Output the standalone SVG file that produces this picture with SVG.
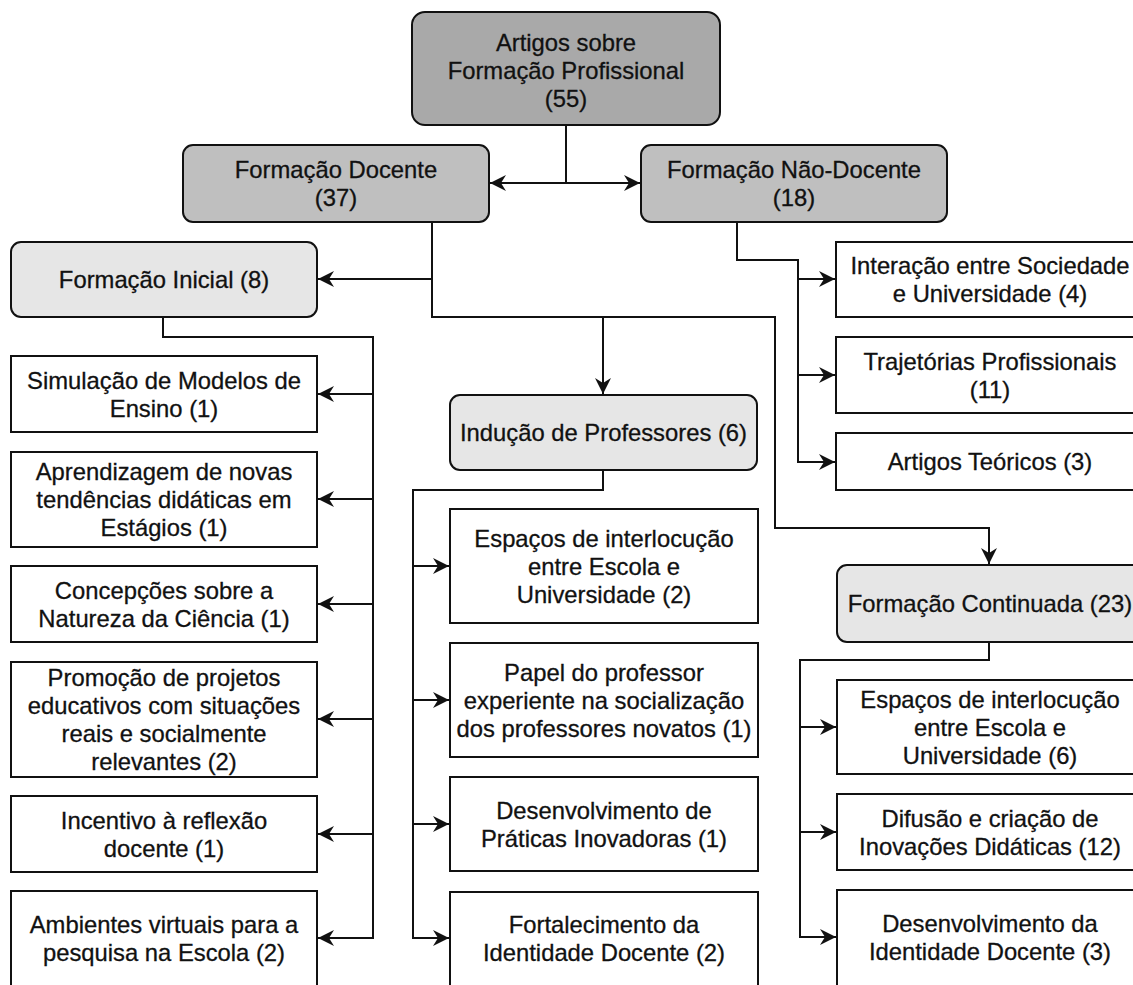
<svg xmlns="http://www.w3.org/2000/svg" width="1133" height="985" viewBox="0 0 1133 985">
<style>
.t{font-family:"Liberation Sans",Arial,sans-serif;font-size:23.8px;fill:#111;stroke:#111;stroke-width:0.3;text-anchor:middle}
.b{stroke:#111;stroke-width:2}
.l0{fill:#a9a9a9}
.l1{fill:#bfbfbf}
.l2{fill:#e6e6e6}
.lf{fill:#fff}
.c{fill:none;stroke:#111;stroke-width:2}
</style>
<defs>
<marker id="ah" viewBox="-17 -9 18 18" markerWidth="18" markerHeight="18" refX="0" refY="0" markerUnits="userSpaceOnUse" orient="auto">
<path d="M-16,-8 L0,0 L-16,8 L-11,0 Z" fill="#111"/>
</marker>
</defs>
<rect width="1133" height="985" fill="#fff"/>
<g id="connectors">
<path class="c" d="M566,125 V183 H490" marker-end="url(#ah)"/>
<path class="c" d="M566,183 H640" marker-end="url(#ah)"/>
<path class="c" d="M432,222 V279 H318" marker-end="url(#ah)"/>
<path class="c" d="M432,279 V317 H603 V394" marker-end="url(#ah)"/>
<path class="c" d="M603,317 H775 V528 H989 V564" marker-end="url(#ah)"/>
<path class="c" d="M163,317 V337 H373 V938 H318" marker-end="url(#ah)"/>
<path class="c" d="M373,394 H318" marker-end="url(#ah)"/>
<path class="c" d="M373,499 H318" marker-end="url(#ah)"/>
<path class="c" d="M373,604 H318" marker-end="url(#ah)"/>
<path class="c" d="M373,719 H318" marker-end="url(#ah)"/>
<path class="c" d="M373,834 H318" marker-end="url(#ah)"/>
<path class="c" d="M737,222 V260 H798 V462 H835" marker-end="url(#ah)"/>
<path class="c" d="M798,279 H835" marker-end="url(#ah)"/>
<path class="c" d="M798,375 H835" marker-end="url(#ah)"/>
<path class="c" d="M603,470 V490 H413 V938 H449" marker-end="url(#ah)"/>
<path class="c" d="M413,566 H449" marker-end="url(#ah)"/>
<path class="c" d="M413,700 H449" marker-end="url(#ah)"/>
<path class="c" d="M413,824 H449" marker-end="url(#ah)"/>
<path class="c" d="M989,642 V660 H800 V937 H836" marker-end="url(#ah)"/>
<path class="c" d="M800,727 H836" marker-end="url(#ah)"/>
<path class="c" d="M800,832 H836" marker-end="url(#ah)"/>
</g>
<g id="n-root"><rect class="b l0" x="412" y="12" width="308" height="113" rx="13"/>
<text class="t" x="566" y="50.5">Artigos sobre</text><text class="t" x="566" y="78.5">Formação Profissional</text><text class="t" x="566" y="106.5">(55)</text></g>
<g id="n-docente"><rect class="b l1" x="183" y="145" width="306" height="77" rx="10"/>
<text class="t" x="336" y="178">Formação Docente</text><text class="t" x="336" y="206">(37)</text></g>
<g id="n-naodocente"><rect class="b l1" x="641" y="145" width="306" height="77" rx="10"/>
<text class="t" x="794" y="178">Formação Não-Docente</text><text class="t" x="794" y="206">(18)</text></g>
<g id="n-inicial"><rect class="b l2" x="11" y="242" width="306" height="75" rx="10"/>
<text class="t" x="164" y="288">Formação Inicial (8)</text></g>
<g id="n-simulacao"><rect class="b lf" x="11" y="356" width="306" height="76"/>
<text class="t" x="164" y="388.5">Simulação de Modelos de</text><text class="t" x="164" y="416.5">Ensino (1)</text></g>
<g id="n-aprendizagem"><rect class="b lf" x="11" y="452" width="306" height="95"/>
<text class="t" x="164" y="480">Aprendizagem de novas</text><text class="t" x="164" y="508">tendências didáticas em</text><text class="t" x="164" y="536">Estágios (1)</text></g>
<g id="n-concepcoes"><rect class="b lf" x="11" y="566" width="306" height="76"/>
<text class="t" x="164" y="598.5">Concepções sobre a</text><text class="t" x="164" y="626.5">Natureza da Ciência (1)</text></g>
<g id="n-promocao"><rect class="b lf" x="11" y="662" width="306" height="115"/>
<text class="t" x="164" y="686">Promoção de projetos</text><text class="t" x="164" y="714">educativos com situações</text><text class="t" x="164" y="742">reais e socialmente</text><text class="t" x="164" y="770">relevantes (2)</text></g>
<g id="n-incentivo"><rect class="b lf" x="11" y="796" width="306" height="76"/>
<text class="t" x="164" y="828.5">Incentivo à reflexão</text><text class="t" x="164" y="856.5">docente (1)</text></g>
<g id="n-ambientes"><rect class="b lf" x="11" y="891" width="306" height="96"/>
<text class="t" x="164" y="932.5">Ambientes virtuais para a</text><text class="t" x="164" y="960.5">pesquisa na Escola (2)</text></g>
<g id="n-inducao"><rect class="b l2" x="450" y="395" width="307" height="75" rx="10"/>
<text class="t" x="603.5" y="441">Indução de Professores (6)</text></g>
<g id="n-espacos-ind"><rect class="b lf" x="450" y="509" width="308" height="114"/>
<text class="t" x="604" y="546.5">Espaços de interlocução</text><text class="t" x="604" y="574.5">entre Escola e</text><text class="t" x="604" y="602.5">Universidade (2)</text></g>
<g id="n-papel"><rect class="b lf" x="450" y="643" width="308" height="114"/>
<text class="t" x="604" y="680.5">Papel do professor</text><text class="t" x="604" y="708.5">experiente na socialização</text><text class="t" x="604" y="736.5">dos professores novatos (1)</text></g>
<g id="n-praticas"><rect class="b lf" x="450" y="777" width="308" height="94"/>
<text class="t" x="604" y="818.5">Desenvolvimento de</text><text class="t" x="604" y="846.5">Práticas Inovadoras (1)</text></g>
<g id="n-fortalecimento"><rect class="b lf" x="450" y="892" width="308" height="96"/>
<text class="t" x="604" y="932.5">Fortalecimento da</text><text class="t" x="604" y="960.5">Identidade Docente (2)</text></g>
<g id="n-interacao"><rect class="b lf" x="836" y="242" width="310" height="75"/>
<text class="t" x="990" y="274">Interação entre Sociedade</text><text class="t" x="990" y="302">e Universidade (4)</text></g>
<g id="n-trajetorias"><rect class="b lf" x="836" y="337" width="310" height="76"/>
<text class="t" x="990" y="369.5">Trajetórias Profissionais</text><text class="t" x="990" y="397.5">(11)</text></g>
<g id="n-teoricos"><rect class="b lf" x="836" y="433" width="310" height="57"/>
<text class="t" x="990" y="470">Artigos Teóricos (3)</text></g>
<g id="n-continuada"><rect class="b l2" x="837" y="565" width="310" height="77" rx="10"/>
<text class="t" x="990" y="612">Formação Continuada (23)</text></g>
<g id="n-espacos-cont"><rect class="b lf" x="837" y="680" width="310" height="94"/>
<text class="t" x="990" y="707.5">Espaços de interlocução</text><text class="t" x="990" y="735.5">entre Escola e</text><text class="t" x="990" y="763.5">Universidade (6)</text></g>
<g id="n-difusao"><rect class="b lf" x="837" y="794" width="310" height="76"/>
<text class="t" x="990" y="826.5">Difusão e criação de</text><text class="t" x="990" y="854.5">Inovações Didáticas (12)</text></g>
<g id="n-identidade"><rect class="b lf" x="837" y="890" width="310" height="97"/>
<text class="t" x="990" y="932">Desenvolvimento da</text><text class="t" x="990" y="960">Identidade Docente (3)</text></g>
</svg>
